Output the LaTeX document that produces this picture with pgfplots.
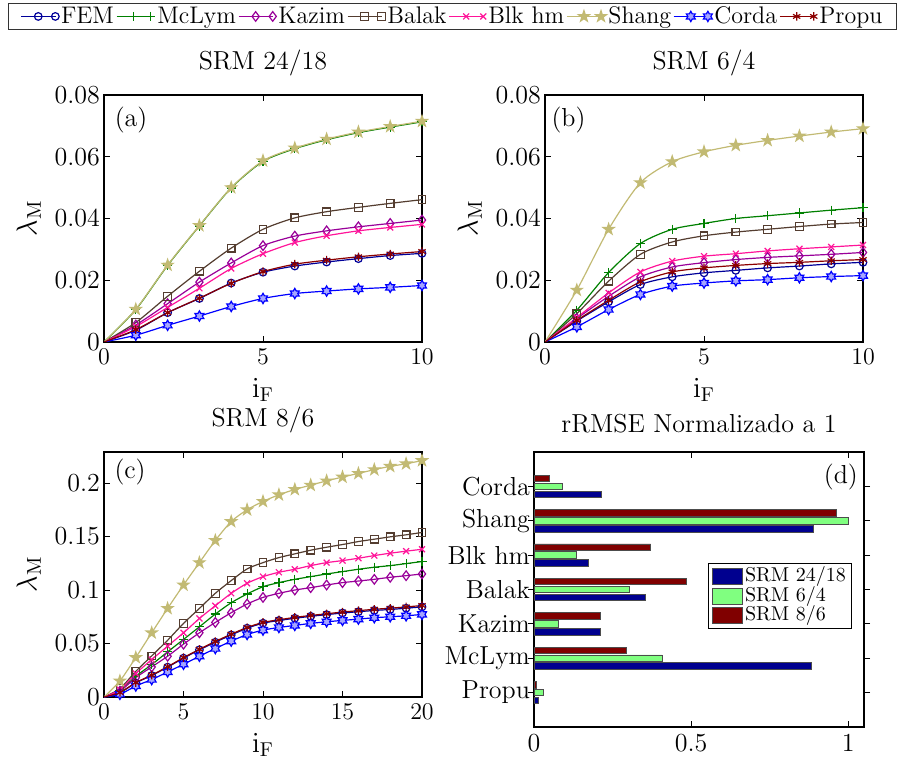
\documentclass[border=0pt]{standalone}
\usepackage{pgfplots}
\pgfplotsset{compat=1.18}
\usepackage{pgfplotstable}
\usetikzlibrary{plotmarks}

\definecolor{cFEM}{rgb}{0,0,0.6}
\definecolor{cMcL}{rgb}{0,0.5,0}
\definecolor{cKaz}{rgb}{0.6,0,0.6}
\definecolor{cBal}{rgb}{0.33,0.24,0.19}
\definecolor{cBlk}{rgb}{1,0.08,0.6}
\definecolor{cSha}{rgb}{0.76,0.73,0.45}
\definecolor{cCor}{rgb}{0,0,1}
\definecolor{cPro}{rgb}{0.55,0,0}
\definecolor{bBlue}{rgb}{0,0,0.56}
\definecolor{bGreen}{rgb}{0.5,1,0.5}
\definecolor{bRed}{rgb}{0.5,0,0}

\pgfdeclareplotmark{pentagram}{%
  \pgfpathmoveto{\pgfpointpolar{90}{1.5\pgfplotmarksize}}%
  \pgfpathlineto{\pgfpointpolar{126}{0.58\pgfplotmarksize}}%
  \pgfpathlineto{\pgfpointpolar{162}{1.5\pgfplotmarksize}}%
  \pgfpathlineto{\pgfpointpolar{198}{0.58\pgfplotmarksize}}%
  \pgfpathlineto{\pgfpointpolar{234}{1.5\pgfplotmarksize}}%
  \pgfpathlineto{\pgfpointpolar{270}{0.58\pgfplotmarksize}}%
  \pgfpathlineto{\pgfpointpolar{306}{1.5\pgfplotmarksize}}%
  \pgfpathlineto{\pgfpointpolar{342}{0.58\pgfplotmarksize}}%
  \pgfpathlineto{\pgfpointpolar{18}{1.5\pgfplotmarksize}}%
  \pgfpathlineto{\pgfpointpolar{54}{0.58\pgfplotmarksize}}%
  \pgfpathclose\pgfusepathqfillstroke}
\pgfdeclareplotmark{hexagram}{%
  \pgfpathmoveto{\pgfpointpolar{90}{1.35\pgfplotmarksize}}%
  \pgfpathlineto{\pgfpointpolar{120}{0.78\pgfplotmarksize}}%
  \pgfpathlineto{\pgfpointpolar{150}{1.35\pgfplotmarksize}}%
  \pgfpathlineto{\pgfpointpolar{180}{0.78\pgfplotmarksize}}%
  \pgfpathlineto{\pgfpointpolar{210}{1.35\pgfplotmarksize}}%
  \pgfpathlineto{\pgfpointpolar{240}{0.78\pgfplotmarksize}}%
  \pgfpathlineto{\pgfpointpolar{270}{1.35\pgfplotmarksize}}%
  \pgfpathlineto{\pgfpointpolar{300}{0.78\pgfplotmarksize}}%
  \pgfpathlineto{\pgfpointpolar{330}{1.35\pgfplotmarksize}}%
  \pgfpathlineto{\pgfpointpolar{0}{0.78\pgfplotmarksize}}%
  \pgfpathlineto{\pgfpointpolar{30}{1.35\pgfplotmarksize}}%
  \pgfpathlineto{\pgfpointpolar{60}{0.78\pgfplotmarksize}}%
  \pgfpathclose\pgfusepathqfillstroke}

\pgfplotstableread{
x FEM McLym Kazim Balak Blkhm Shang Corda Propu
0 0 0 0 0 0 0 0 0
1 0.0038 0.0105 0.0055 0.0063 0.0050 0.0106 0.0022 0.0040
2 0.0095 0.0248 0.0124 0.0148 0.0112 0.0249 0.0054 0.0095
3 0.0141 0.0376 0.0194 0.0229 0.0174 0.0377 0.0084 0.0142
4 0.0191 0.0499 0.0256 0.0304 0.0238 0.0500 0.0115 0.0190
5 0.0226 0.0585 0.0312 0.0365 0.0286 0.0587 0.0141 0.0228
6 0.0246 0.0626 0.0343 0.0402 0.0322 0.0628 0.0157 0.0252
7 0.0259 0.0655 0.0360 0.0422 0.0344 0.0657 0.0165 0.0265
8 0.0270 0.0678 0.0373 0.0436 0.0360 0.0680 0.0172 0.0276
9 0.0280 0.0696 0.0384 0.0449 0.0371 0.0698 0.0177 0.0285
10 0.0287 0.0713 0.0395 0.0461 0.0381 0.0715 0.0183 0.0293
}\tabA

\pgfplotstableread{
x FEM McLym Kazim Balak Blkhm Shang Corda Propu
0 0 0 0 0 0 0 0 0
1 0.0068 0.0103 0.0076 0.0092 0.0079 0.0168 0.0049 0.0070
2 0.0130 0.0225 0.0148 0.0197 0.0159 0.0365 0.0105 0.0135
3 0.0186 0.0319 0.0211 0.0284 0.0227 0.0516 0.0154 0.0195
4 0.0211 0.0365 0.0243 0.0324 0.0262 0.0584 0.0181 0.0227
5 0.0224 0.0384 0.0257 0.0344 0.0278 0.0616 0.0191 0.0240
6 0.0232 0.0400 0.0267 0.0356 0.0286 0.0637 0.0198 0.0248
7 0.0240 0.0409 0.0274 0.0365 0.0295 0.0653 0.0202 0.0254
8 0.0246 0.0418 0.0279 0.0374 0.0302 0.0667 0.0208 0.0258
9 0.0253 0.0427 0.0284 0.0382 0.0308 0.0680 0.0212 0.0263
10 0.0258 0.0435 0.0290 0.0387 0.0314 0.0691 0.0215 0.0267
}\tabB

\pgfplotstableread{
x FEM McLym Kazim Balak Blkhm Shang Corda Propu
0 0 0 0 0 0 0 0 0
1 0.0040 0.0060 0.0055 0.0078 0.0068 0.0150 0.0025 0.0042
2 0.0132 0.0194 0.0181 0.0240 0.0219 0.0369 0.0103 0.0135
3 0.0201 0.0303 0.0281 0.0384 0.0350 0.0600 0.0163 0.0205
4 0.0279 0.0422 0.0381 0.0530 0.0475 0.0828 0.0234 0.0283
5 0.0363 0.0538 0.0494 0.0688 0.0600 0.1047 0.0306 0.0368
6 0.0441 0.0656 0.0600 0.0828 0.0734 0.1256 0.0381 0.0446
7 0.0512 0.0775 0.0697 0.0969 0.0853 0.1463 0.0453 0.0519
8 0.0580 0.0881 0.0788 0.1088 0.0969 0.1640 0.0522 0.0587
9 0.0643 0.0963 0.0869 0.1197 0.1063 0.1750 0.0584 0.0650
10 0.0690 0.1031 0.0931 0.1256 0.1125 0.1828 0.0625 0.0697
11 0.0715 0.1069 0.0969 0.1303 0.1166 0.1890 0.0650 0.0722
12 0.0736 0.1100 0.1000 0.1338 0.1194 0.1940 0.0669 0.0744
13 0.0754 0.1125 0.1022 0.1372 0.1228 0.1980 0.0688 0.0762
14 0.0770 0.1150 0.1047 0.1400 0.1256 0.2020 0.0703 0.0778
15 0.0785 0.1172 0.1069 0.1425 0.1275 0.2056 0.0716 0.0794
16 0.0797 0.1194 0.1084 0.1453 0.1297 0.2090 0.0728 0.0807
17 0.0809 0.1213 0.1100 0.1475 0.1322 0.2125 0.0741 0.0820
18 0.0818 0.1228 0.1119 0.1497 0.1344 0.2156 0.0750 0.0830
19 0.0830 0.1247 0.1134 0.1516 0.1363 0.2180 0.0759 0.0842
20 0.0842 0.1266 0.1150 0.1538 0.1381 0.2210 0.0772 0.0855
}\tabC

\newcommand\fs{\fontsize{13}{15}\selectfont}
\newcommand\fl{\fontsize{12}{14}\selectfont}
\pgfplotsset{
  base/.style={scale only axis, font=\fs,
    tick label style={font=\fs},
    title style={font=\fs},
    label style={font=\fontsize{14.5}{16}\selectfont},
    tick align=inside, major tick length=3pt, axis line style={line width=0.6pt},
    every tick/.style={black, line width=0.5pt}},
  lines/.style={base, scaled y ticks=false,
    yticklabel style={xshift=1.5pt},
    xlabel={$\mathrm{i}_{\mathrm{F}}$}, ylabel={$\lambda_{\mathrm{M}}$},
    every axis plot/.append style={line width=0.6pt, smooth, tension=0.45, mark size=1.9pt,
      mark indices={2,...,21}, mark options={solid}}},
  pFEM/.style={color=cFEM, mark=o},
  pMcL/.style={color=cMcL, mark=+, mark size=2.3pt},
  pKaz/.style={color=cKaz, mark=diamond, mark size=2.4pt},
  pBal/.style={color=cBal, mark=square},
  pBlk/.style={color=cBlk, mark=x, mark size=2.1pt},
  pSha/.style={color=cSha, mark=pentagram, mark options={fill=cSha}},
  pCor/.style={color=cCor, mark=hexagram, mark options={fill=cCor!35}},
  pPro/.style={color=cPro, mark=asterisk, mark size=2.1pt},
}
\newcommand\plotall[1]{%
  \addplot[pFEM] table[x=x,y=FEM]{#1};
  \addplot[pMcL] table[x=x,y=McLym]{#1};
  \addplot[pKaz] table[x=x,y=Kazim]{#1};
  \addplot[pBal] table[x=x,y=Balak]{#1};
  \addplot[pBlk] table[x=x,y=Blkhm]{#1};
  \addplot[pSha] table[x=x,y=Shang]{#1};
  \addplot[pCor] table[x=x,y=Corda]{#1};
  \addplot[pPro] table[x=x,y=Propu]{#1};
}

\begin{document}
\begin{tikzpicture}
\useasboundingbox (0,0) rectangle (451.5pt,-381.5pt);

% (a)
\begin{axis}[lines, at={(52pt,-47.5pt)}, anchor=north west, width=159pt, height=123.5pt,
  xmin=0, xmax=10, ymin=0, ymax=0.08, xtick={0,5,10},
  ytick={0,0.02,0.04,0.06,0.08}, yticklabels={0,0.02,0.04,0.06,0.08},
  title={SRM 24/18},
  legend columns=8, legend cell align=left,
  legend entries={FEM,McLym,Kazim,Balak,Blk hm,Shang,Corda,Propu},
  legend style={at={(1.0959,1.3725)}, anchor=north, draw=black!80, line width=0.5pt,
    font=\fl, inner xsep=6pt, inner ysep=0.5pt, nodes={inner xsep=1pt, inner ysep=1pt},
    /tikz/every even column/.append style={column sep=0pt}}]
\plotall{\tabA}
\node[font=\fs] at (rel axis cs:0.085,0.9) {(a)};
\end{axis}

% (b)
\begin{axis}[lines, at={(272.5pt,-47.5pt)}, anchor=north west, width=159pt, height=123.5pt,
  xmin=0, xmax=10, ymin=0, ymax=0.08, xtick={0,5,10},
  ytick={0,0.02,0.04,0.06,0.08}, yticklabels={0,0.02,0.04,0.06,0.08},
  title={SRM 6/4}]
\plotall{\tabB}
\node[font=\fs] at (rel axis cs:0.074,0.9) {(b)};
\end{axis}

% (c)
\begin{axis}[lines, at={(52pt,-226pt)}, anchor=north west, width=159pt, height=122.5pt,
  xmin=0, xmax=20, ymin=0, ymax=0.229, xtick={0,5,10,15,20},
  ytick={0,0.05,0.1,0.15,0.2}, yticklabels={0,0.05,0.1,0.15,0.2},
  title={SRM 8/6}]
\plotall{\tabC}
\node[font=\fs] at (rel axis cs:0.082,0.918) {(c)};
\end{axis}

% (d)
\begin{axis}[base, at={(267pt,-226pt)}, anchor=north west, width=165pt, height=137.5pt,
  xbar, xmin=0, xmax=1.05, ymin=0, ymax=8,
  xtick={0,0.5,1}, xticklabels={0,0.5,1},
  ytick={1,2,3,4,5,6,7}, yticklabels={Propu,McLym,Kazim,Balak,Blk hm,Shang,Corda},
  yticklabel style={xshift=4.5pt},
  bar width=0.19, title={rRMSE Normalizado a 1},
  legend cell align=left,
  legend image code/.code={\draw[#1, draw=black!70] (0pt,-4pt) rectangle (15pt,4pt);},
  legend style={at={(0.965,0.595)}, anchor=north east, draw=black, line width=0.5pt,
    font=\fontsize{10}{11}\selectfont, inner xsep=2pt, inner ysep=1.5pt,
    nodes={inner xsep=1pt, inner ysep=0pt, text height=7.5pt, text depth=2.25pt}}]
\addplot[fill=bBlue, draw=black!70, line width=0.4pt, bar shift=-0.23] coordinates
  {(0.014,1) (0.882,2) (0.212,3) (0.353,4) (0.174,5) (0.888,6) (0.215,7)};
\addlegendentry{SRM 24/18}
\addplot[fill=bGreen, draw=black!70, line width=0.4pt, bar shift=0] coordinates
  {(0.030,1) (0.408,2) (0.077,3) (0.303,4) (0.136,5) (1.000,6) (0.090,7)};
\addlegendentry{SRM 6/4}
\addplot[fill=bRed, draw=black!70, line width=0.4pt, bar shift=0.23] coordinates
  {(0.007,1) (0.293,2) (0.212,3) (0.484,4) (0.371,5) (0.961,6) (0.049,7)};
\addlegendentry{SRM 8/6}
\node[font=\fs] at (rel axis cs:0.93,0.909) {(d)};
\end{axis}
\end{tikzpicture}
\end{document}
